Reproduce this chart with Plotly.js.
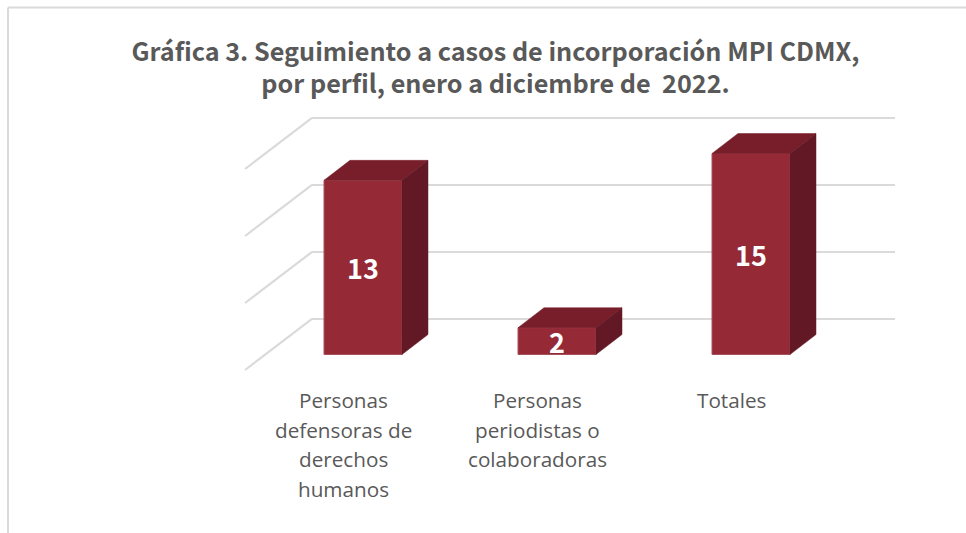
<!DOCTYPE html>
<html>
<head>
<meta charset="utf-8">
<script src="https://cdn.plot.ly/plotly-3.0.1.min.js"></script>
<style>html,body{margin:0;padding:0;background:#fff}#chart{width:966px;height:533px}</style>
</head>
<body>
<div id="chart"></div>
<script>
const categories = [0, 1, 2];
const categoryLines = [
  ["Personas", "defensoras de", "derechos", "humanos"],
  ["Personas", "periodistas o", "colaboradoras"],
  ["Totales"]
];
const values = [13, 2, 15];
const gridValues = [0, 5, 10, 15];
const titleText = "Gráfica 3. Seguimiento a casos de incorporación MPI CDMX,<br>por perfil, enero a diciembre de \u00a02022.";

// 3-D projection, in axis units
const barWidth = 0.402, barDepthX = 0.134, barDepthY = 1.49;
const wallLeft = -0.608, wallBack = -0.263, wallRight = 2.742;
const wallFrontDrop = -1.157, wallBackRise = 2.65;
const labelShift = -0.103;

const gridColor = "#dadada", textColor = "#595959";
const frontColor = "#962936", topColor = "#771e2a", sideColor = "#631925";
const cjk = "Noto Sans CJK SC";

const traces = [];
traces.push({
  type: "bar", x: categories, y: values, width: barWidth,
  marker: {color: frontColor, line: {color: "#a8505c", width: 1}},
  text: values.map(String), textposition: "inside", insidetextanchor: "middle",
  constraintext: "none", textangle: 0,
  insidetextfont: {family: cjk, size: 27, color: "#ffffff", weight: 700},
  hoverinfo: "skip", showlegend: false
});
categories.forEach((c, i) => {
  const v = values[i], l = c - barWidth / 2, r = c + barWidth / 2;
  traces.push({
    type: "scatter", mode: "lines", fill: "toself", fillcolor: topColor,
    x: [l, r, r + barDepthX, l + barDepthX, l],
    y: [v, v, v + barDepthY, v + barDepthY, v],
    line: {color: topColor, width: 0.5}, hoverinfo: "skip", showlegend: false
  });
  traces.push({
    type: "scatter", mode: "lines", fill: "toself", fillcolor: sideColor,
    x: [r, r + barDepthX, r + barDepthX, r, r],
    y: [0, barDepthY, v + barDepthY, v, 0],
    line: {color: sideColor, width: 0.5}, hoverinfo: "skip", showlegend: false
  });
});

const shapes = [];
gridValues.forEach(g => {
  shapes.push({type: "line", layer: "below", xref: "x", yref: "y",
    x0: wallLeft, y0: g + wallFrontDrop, x1: wallBack, y1: g + wallBackRise,
    line: {color: gridColor, width: 2.2}});
  shapes.push({type: "line", layer: "below", xref: "x", yref: "y",
    x0: wallBack, y0: g + wallBackRise, x1: wallRight, y1: g + wallBackRise,
    line: {color: gridColor, width: 2.2}});
});
// chart frame (top and left edges)
shapes.push({type: "line", xref: "paper", yref: "paper", x0: 8/966, x1: 8/966, y0: 0, y1: 1-7.5/533, line: {color: gridColor, width: 2}});
shapes.push({type: "line", xref: "paper", yref: "paper", x0: 8/966, x1: 1, y0: 1-7.5/533, y1: 1-7.5/533, line: {color: gridColor, width: 2}});

const annotations = [];
categoryLines.forEach((lines, i) => {
  lines.forEach((t, j) => {
    annotations.push({
      xref: "x", yref: "paper", x: categories[i] + labelShift,
      y: 1 - (400 + j * 29.7) / 533, yanchor: "middle", xanchor: "center",
      text: t, showarrow: false,
      font: {family: "Open Sans", size: 20.7, color: textColor}
    });
  });
});

const layout = {
  width: 966, height: 533, margin: {l: 0, r: 0, t: 0, b: 0, pad: 0},
  paper_bgcolor: "#ffffff", plot_bgcolor: "#ffffff",
  title: {text: titleText, x: 495.5/966, xanchor: "center", y: 1 - 60.5/533, yanchor: "middle",
    font: {family: cjk, size: 25.2, color: textColor, weight: 700}},
  xaxis: {range: [-363/194, (966-363)/194], showgrid: false, zeroline: false, showline: false,
    showticklabels: false, ticks: "", fixedrange: true},
  yaxis: {range: [(354.5-533)/13.4, 354.5/13.4], showgrid: false, zeroline: false, showline: false,
    showticklabels: false, ticks: "", fixedrange: true},
  bargap: 0, shapes, annotations, showlegend: false
};
Plotly.newPlot("chart", traces, layout, {displayModeBar: false, staticPlot: true});
</script>
</body>
</html>
